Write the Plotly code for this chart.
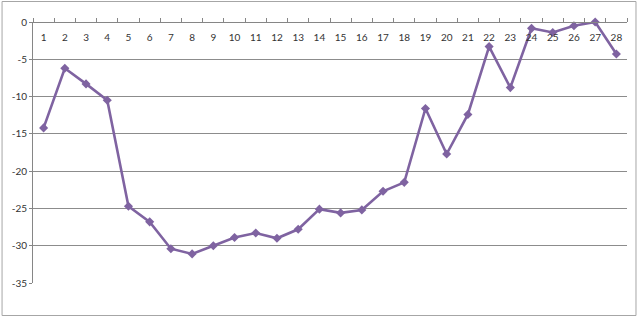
import plotly.graph_objects as go

categories = list(range(1, 29))
values = [-14.2, -6.2, -8.3, -10.5, -24.7, -26.8, -30.4, -31.1, -30.0, -28.9,
          -28.3, -29.0, -27.8, -25.1, -25.6, -25.2, -22.7, -21.5, -11.6, -17.7,
          -12.4, -3.3, -8.8, -0.85, -1.4, -0.5, 0.0, -4.3]
y_ticks = [0, -5, -10, -15, -20, -25, -30, -35]
y_tick_text = [str(v) for v in y_ticks]

W, H = 640, 318
ml, mr, mt, mb = 32.5, 12.5, 22, 35

fig = go.Figure()
fig.add_trace(go.Scatter(
    x=categories, y=values, mode="lines+markers",
    line=dict(color="#7F63A1", width=2.6),
    marker=dict(symbol="diamond", size=7, color="#7F63A1"),
    cliponaxis=False,
    showlegend=False, hoverinfo="skip"))

pw = W - ml - mr
ph = H - mt - mb
fig.add_shape(type="rect", xref="paper", yref="paper",
              x0=(1.5 - ml) / pw, x1=(636.5 - ml) / pw,
              y0=(H - 315.5 - mb) / ph, y1=(H - 1.5 - mb) / ph,
              line=dict(color="#A6A6A6", width=1), layer="below")

font = dict(family="Lato, 'Open Sans', sans-serif", size=10, color="#333333")
fig.update_layout(
    width=W, height=H,
    margin=dict(l=ml, r=mr, t=mt, b=mb),
    paper_bgcolor="white", plot_bgcolor="white",
    font=font,
    xaxis=dict(range=[0.5, 28.5], side="bottom", anchor="free", position=1,
               tickvals=categories,
               ticktext=[str(c) for c in categories],
               ticks="", ticklabelstandoff=6,
               showgrid=False, zeroline=False, showline=True,
               linecolor="#868686", linewidth=1,
               minor=dict(tick0=0.5, dtick=1, ticks="inside", ticklen=4,
                          tickcolor="#868686", showgrid=False),
               tickfont=font, fixedrange=True),
    yaxis=dict(range=[-35, 0], tickvals=y_ticks, ticktext=y_tick_text,
               showgrid=True, gridcolor="#8C8C8C", gridwidth=1,
               zeroline=False, showline=True, linecolor="#868686", linewidth=1,
               ticks="outside", ticklen=3, tickcolor="#868686",
               tickfont=font, fixedrange=True),
)

fig.write_html("out.html")
